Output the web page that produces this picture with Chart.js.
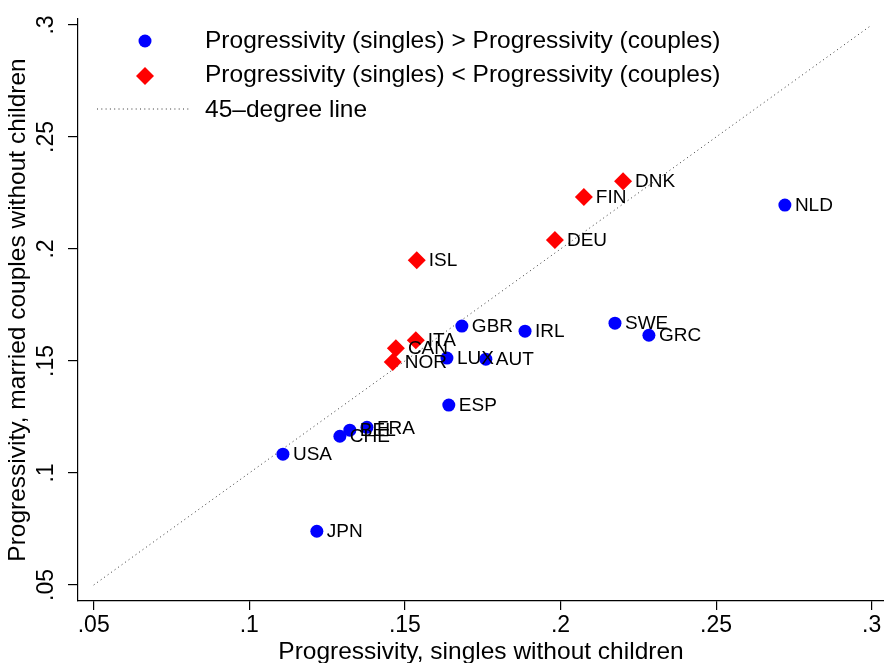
<!DOCTYPE html>
<html><head><meta charset="utf-8">
<script src="https://cdn.jsdelivr.net/npm/chart.js@4.4.0/dist/chart.umd.min.js"></script>
<style>html,body{margin:0;padding:0;background:#fff;overflow:hidden;}#wrap{width:884px;height:663px;position:relative;}canvas{display:block;}</style>
</head><body><div id="wrap"><canvas id="c" width="884" height="663"></canvas></div>
<script>
// ---- data ----
const blueCountries = ['NLD','SWE','GRC','IRL','GBR','LUX','AUT','ESP','FRA','BEL','CHE','USA','JPN'];
const blueX = [0.2721,0.2175,0.2284,0.1886,0.1683,0.1635,0.1760,0.1641,0.1378,0.1323,0.1291,0.1108,0.1217];
const blueY = [0.2196,0.1669,0.1615,0.1633,0.1656,0.1513,0.1508,0.1303,0.1204,0.1191,0.1164,0.1084,0.0740];
const redCountries = ['DNK','FIN','DEU','ISL','ITA','CAN','NOR'];
const redX = [0.2201,0.2075,0.1982,0.1538,0.1535,0.1471,0.1461];
const redY = [0.2303,0.2232,0.2040,0.1950,0.1593,0.1557,0.1495];
const lineX = [0.05, 0.3];
const lineY = [0.05, 0.3];
const xTickValues = [0.05, 0.1, 0.15, 0.2, 0.25, 0.3];
const xTickLabels = ['.05', '.1', '.15', '.2', '.25', '.3'];
const yTickValues = [0.05, 0.1, 0.15, 0.2, 0.25, 0.3];
const yTickLabels = ['.05', '.1', '.15', '.2', '.25', '.3'];
const seriesLabels = ['Progressivity (singles) > Progressivity (couples)', 'Progressivity (singles) < Progressivity (couples)', '45\u2013degree line'];
const xTitle = 'Progressivity, singles without children';
const yTitle = 'Progressivity, married couples without children';

const FONT = '"Liberation Sans", Arial, Helvetica, sans-serif';
Chart.defaults.font.family = FONT;
Chart.defaults.color = '#000';

const toPts = (xs, ys) => xs.map((x, i) => ({x: x, y: ys[i]}));

const labelPlugin = {
  id: 'countryLabels',
  afterDatasetsDraw(chart) {
    const ctx = chart.ctx;
    ctx.save();
    ctx.font = '19px ' + FONT;
    ctx.fillStyle = '#000';
    ctx.textBaseline = 'middle';
    ctx.textAlign = 'left';
    chart.data.datasets.forEach((ds, i) => {
      if (!ds.countries) return;
      const meta = chart.getDatasetMeta(i);
      meta.data.forEach((el, j) => {
        ctx.fillText(ds.countries[j], el.x + ds.labelGap, el.y + 1);
      });
    });
    ctx.restore();
  }
};

const legendPlugin = {
  id: 'stataLegend',
  afterDraw(chart, args, opts) {
    const ctx = chart.ctx;
    ctx.save();
    chart.data.datasets.forEach((ds, i) => {
      const it = opts.items[i];
      if (ds.type === 'line') {
        ctx.strokeStyle = ds.borderColor;
        ctx.lineWidth = ds.borderWidth;
        ctx.setLineDash(ds.borderDash);
        ctx.beginPath();
        ctx.moveTo(it.x0, it.my);
        ctx.lineTo(it.x1, it.my);
        ctx.stroke();
        ctx.setLineDash([]);
      } else {
        ctx.fillStyle = ds.pointBackgroundColor;
        const r = ds.pointRadius;
        ctx.beginPath();
        if (ds.pointStyle === 'circle') {
          ctx.arc(it.mx, it.my, r, 0, Math.PI * 2);
        } else {
          ctx.moveTo(it.mx - r, it.my);
          ctx.lineTo(it.mx, it.my - r);
          ctx.lineTo(it.mx + r, it.my);
          ctx.lineTo(it.mx, it.my + r);
          ctx.closePath();
        }
        ctx.fill();
      }
      ctx.fillStyle = '#000';
      ctx.font = '24.5px ' + FONT;
      ctx.textBaseline = 'middle';
      ctx.textAlign = 'left';
      ctx.fillText(ds.label, opts.textX, it.ty);
    });
    ctx.restore();
  }
};

new Chart(document.getElementById('c'), {
  type: 'scatter',
  data: {
    datasets: [
      {
        label: seriesLabels[0], data: toPts(blueX, blueY), countries: blueCountries, labelGap: 10,
        pointStyle: 'circle', pointRadius: 6.5, pointHoverRadius: 6.5,
        pointBackgroundColor: '#0000ff', backgroundColor: '#0000ff', pointBorderWidth: 0, borderWidth: 0, order: 1
      },
      {
        label: seriesLabels[1], data: toPts(redX, redY), countries: redCountries, labelGap: 12,
        pointStyle: 'rectRot', pointRadius: 9, pointHoverRadius: 9,
        pointBackgroundColor: '#ff0000', backgroundColor: '#ff0000', pointBorderWidth: 0, borderWidth: 0, order: 0
      },
      {
        type: 'line', label: seriesLabels[2], data: toPts(lineX, lineY),
        borderColor: '#333', borderWidth: 1, borderDash: [1, 3.3], pointRadius: 0, fill: false, order: 2
      }
    ]
  },
  options: {
    responsive: false,
    animation: false,
    devicePixelRatio: 1,
    events: [],
    layout: { autoPadding: false, padding: { top: 19, right: 0, left: 0, bottom: 0 } },
    plugins: {
      legend: { display: false },
      tooltip: { enabled: false },
      stataLegend: {
        textX: 205,
        items: [
          { mx: 145, my: 41, ty: 41 },
          { mx: 145, my: 76, ty: 75 },
          { x0: 97, x1: 190, my: 109, ty: 110 }
        ]
      }
    },
    scales: {
      x: {
        type: 'linear', min: 0.04495, max: 0.30395, offset: false,
        afterBuildTicks: (s) => { s.ticks = xTickValues.map(v => ({ value: v })); },
        afterFit: (s) => { s.height = 62; s.paddingLeft = 0; s.paddingRight = 0; },
        ticks: {
          callback: (v, i) => xTickLabels[i],
          font: { size: 23, lineHeight: 1 }, padding: 4.5, maxRotation: 0, minRotation: 0, color: '#000'
        },
        grid: { display: true, drawOnChartArea: false, drawTicks: true, tickLength: 9, color: '#000', lineWidth: 1.2 },
        border: { display: true, color: '#000', width: 1.2 },
        title: { display: true, text: xTitle, font: { size: 24.5, lineHeight: 1 }, padding: { top: 0, bottom: -1 }, color: '#000' }
      },
      y: {
        type: 'linear', min: 0.04285, max: 0.30268,
        afterBuildTicks: (s) => { s.ticks = yTickValues.map(v => ({ value: v })); },
        afterFit: (s) => { s.width = 78; s.paddingTop = 0; s.paddingBottom = 0; },
        ticks: {
          callback: (v, i) => yTickLabels[i],
          font: { size: 23, lineHeight: 1 }, padding: 5, minRotation: 90, maxRotation: 90,
          crossAlign: 'center', color: '#000'
        },
        grid: { display: true, drawOnChartArea: false, drawTicks: true, tickLength: 10, color: '#000', lineWidth: 1.2 },
        border: { display: true, color: '#000', width: 1.2 },
        title: { display: true, text: yTitle, font: { size: 24.5, lineHeight: 1 }, padding: { top: 6, bottom: 0 }, color: '#000' }
      }
    }
  },
  plugins: [labelPlugin, legendPlugin]
});
</script>
</body></html>
